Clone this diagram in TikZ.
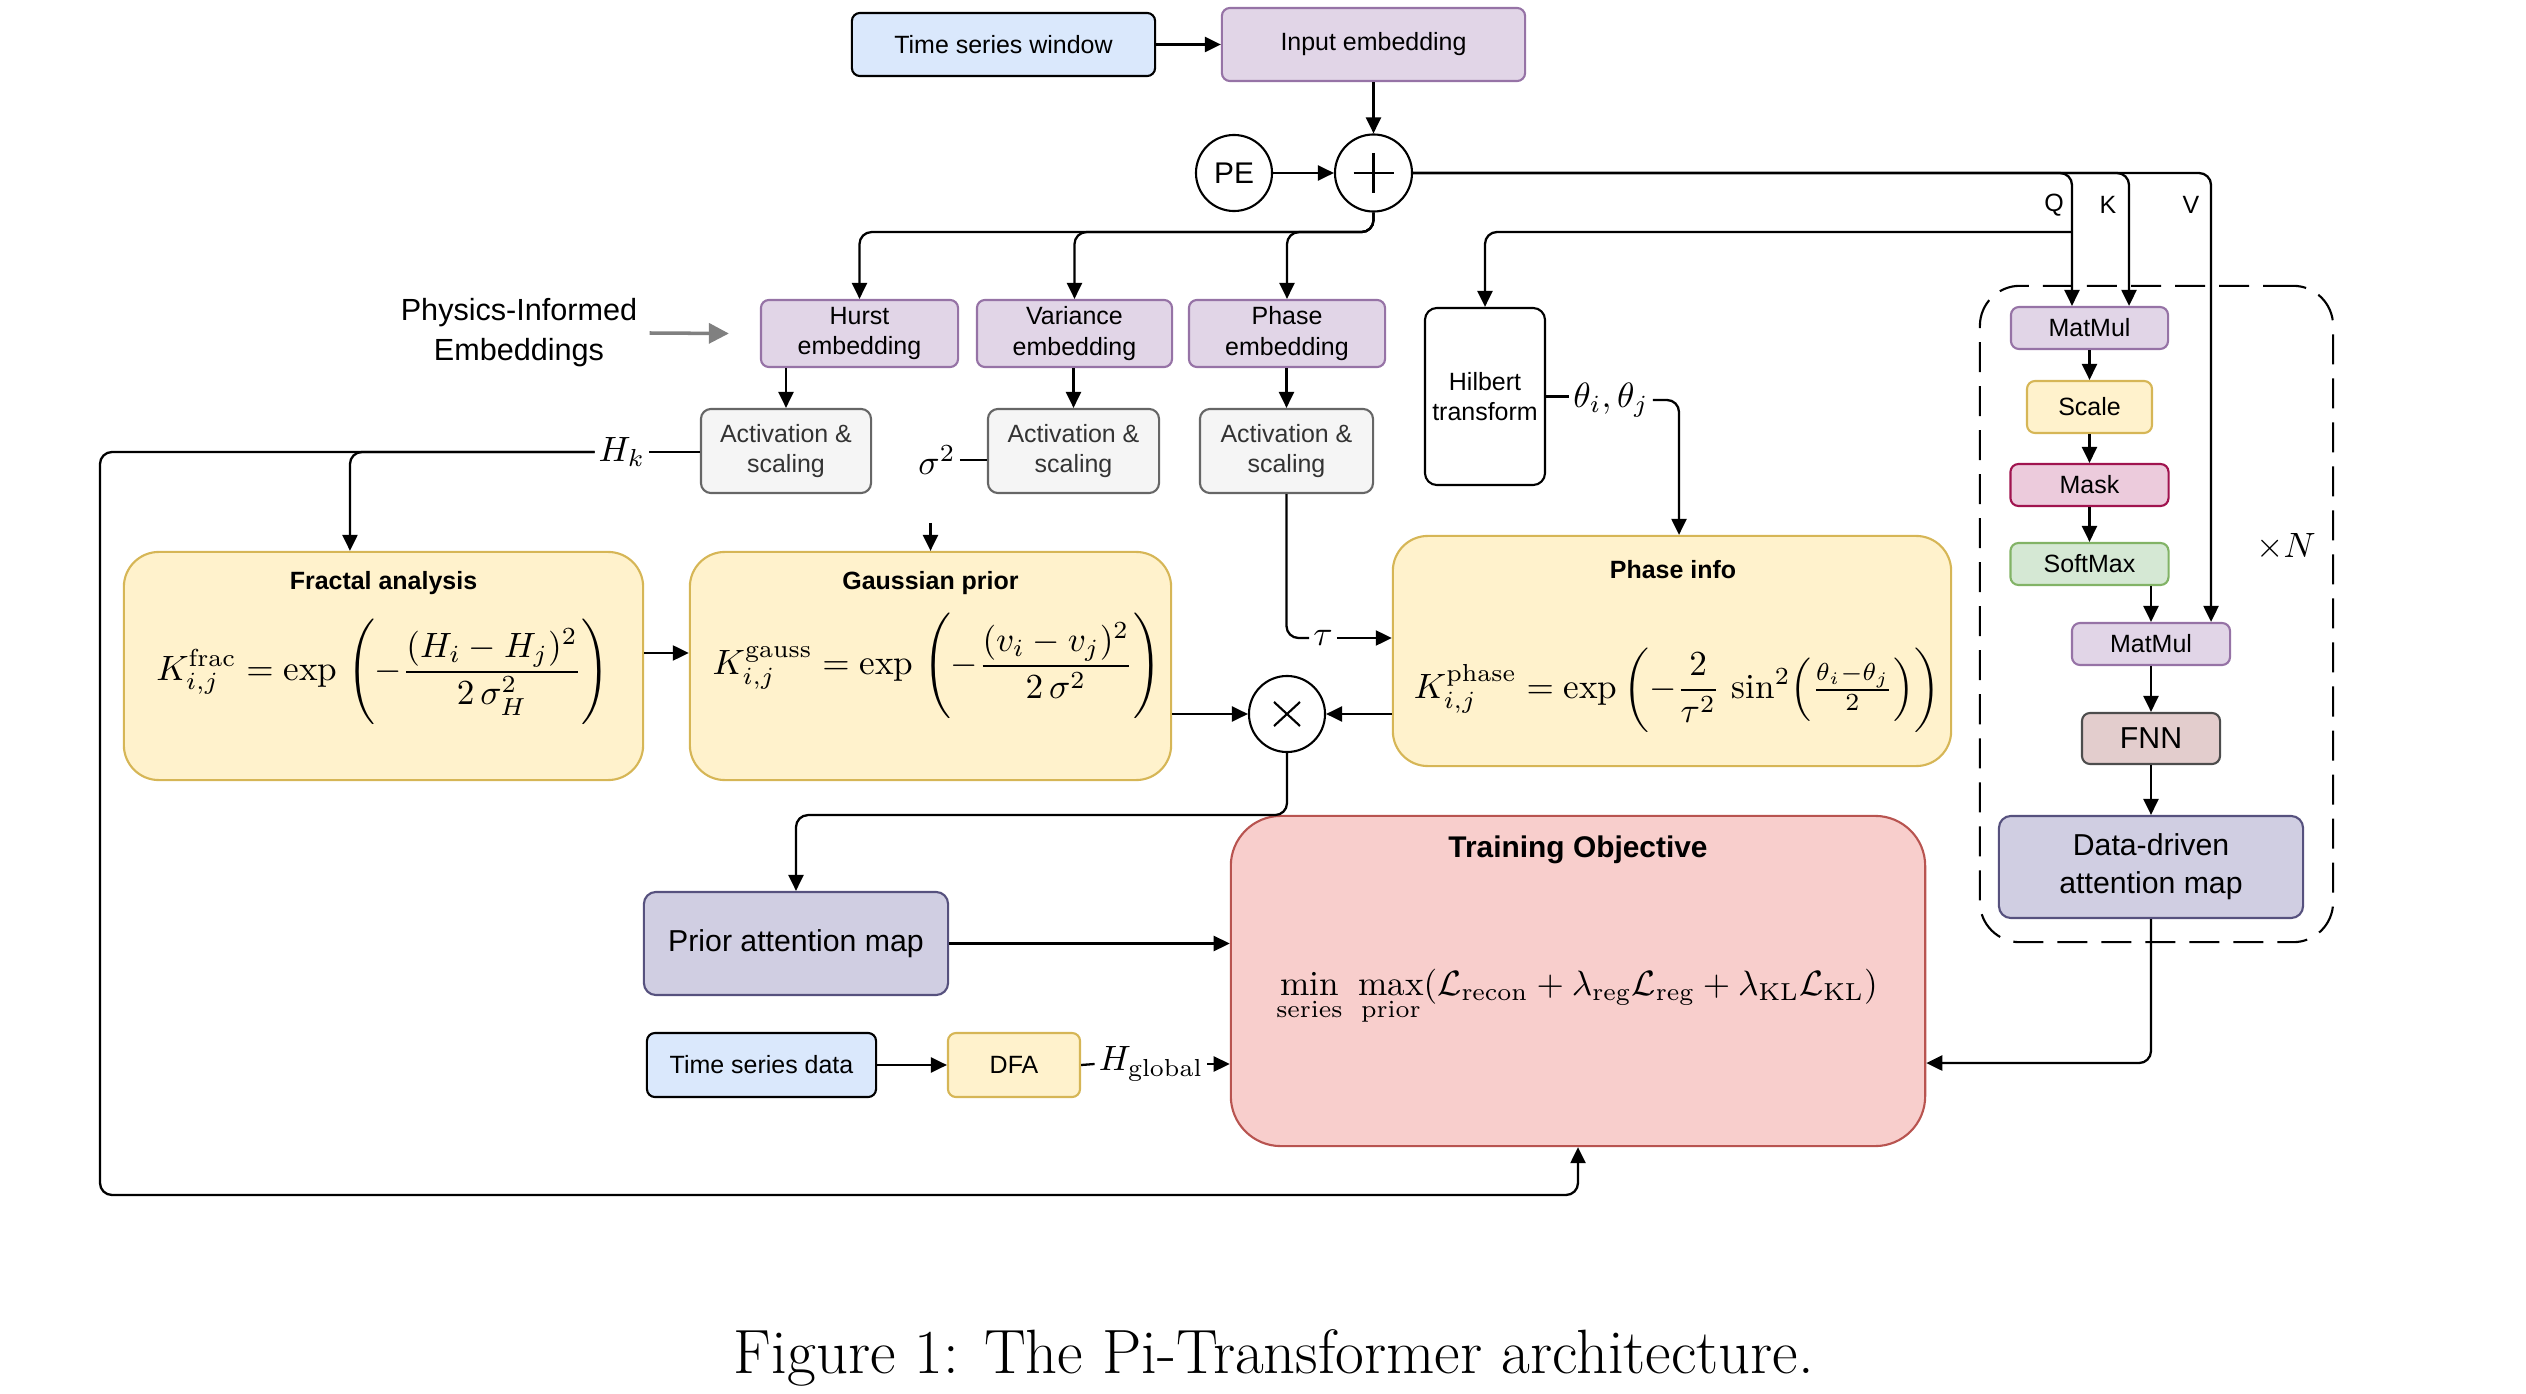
\documentclass[tikz,border=0pt]{standalone}
\usepackage{amsmath}
\usepackage{fontspec}
\setsansfont{Liberation Sans}
\usetikzlibrary{arrows.meta,calc}
\definecolor{bfill}{HTML}{DAE8FC}
\definecolor{pfill}{HTML}{E1D5E7}
\definecolor{pdraw}{HTML}{9673A6}
\definecolor{gfill}{HTML}{F5F5F5}
\definecolor{gdraw}{HTML}{666666}
\definecolor{yfill}{HTML}{FFF2CC}
\definecolor{ydraw}{HTML}{D6B656}
\definecolor{mfill}{HTML}{ECCBDC}
\definecolor{mdraw}{HTML}{A0144F}
\definecolor{sfill}{HTML}{D5E8D4}
\definecolor{sdraw}{HTML}{82B366}
\definecolor{ffill}{HTML}{E3CDCD}
\definecolor{fdraw}{HTML}{4D4D4D}
\definecolor{afill}{HTML}{D0CEE2}
\definecolor{adraw}{HTML}{56517E}
\definecolor{tfill}{HTML}{F8CECC}
\definecolor{tdraw}{HTML}{B85450}
\definecolor{txtgray}{HTML}{333333}
\begin{document}
\begin{tikzpicture}[x=0.01cm,y=-0.01cm,
  base/.style={draw, line width=0.6pt, align=center, inner sep=0pt,
    font=\sffamily\fontsize{7.1}{8.7}\selectfont},
  blu/.style={base, fill=bfill, draw=black, rounded corners=0.08cm},
  purp/.style={base, fill=pfill, draw=pdraw, rounded corners=0.08cm},
  grey/.style={base, fill=gfill, draw=gdraw, text=txtgray, rounded corners=0.1cm},
  yel/.style={base, fill=yfill, draw=ydraw, rounded corners=0.35cm},
  yels/.style={base, fill=yfill, draw=ydraw, rounded corners=0.08cm},
  circ/.style={draw, circle, line width=0.6pt, fill=white, inner sep=0pt,
    font=\sffamily\fontsize{8.5}{10}\selectfont},
  conn/.style={line width=0.65pt, rounded corners=0.12cm,
    -{Triangle[length=0.16cm,width=0.15cm]}},
  plain/.style={line width=0.65pt, rounded corners=0.12cm},
  lbl/.style={inner sep=1pt},
  frm/.style={inner sep=0pt},
  qkv/.style={font=\sffamily\fontsize{7.1}{8.7}\selectfont},
  ttl/.style={font=\sffamily\bfseries\fontsize{7.1}{8.7}\selectfont},
]
\useasboundingbox (0,0) rectangle (2526,1394);

% top row
\node[blu, minimum width=3.03cm, minimum height=0.63cm] (tsw) at (1003.5,44.5) {Time series window};
\node[purp, minimum width=3.03cm, minimum height=0.73cm] (inemb) at (1373.5,44.5) {Input embedding};
\node[circ, minimum size=0.76cm] (pe) at (1234,173) {PE};
\node[circ, minimum size=0.77cm] (plus) at (1373.5,173) {};
\draw[line width=0.6pt] ($(plus.center)+(-20,0)$) -- ($(plus.center)+(20,0)$);
\draw[line width=0.6pt] ($(plus.center)+(0,-20)$) -- ($(plus.center)+(0,20)$);

% physics-informed embeddings
\node[font=\sffamily\fontsize{8.7}{11.4}\selectfont, align=center] (phys) at (519,333) {Physics-Informed\\Embeddings};
\node[purp, minimum width=1.97cm, minimum height=0.67cm] (hurst) at (859.5,333.5) {Hurst\\embedding};
\node[purp, minimum width=1.95cm, minimum height=0.67cm] (var) at (1074.5,333.5) {Variance\\embedding};
\node[purp, minimum width=1.96cm, minimum height=0.67cm] (phemb) at (1287,333.5) {Phase\\embedding};
\node[grey, minimum width=1.70cm, minimum height=0.84cm] (act1) at (786,451) {Activation \&\\scaling};
\node[grey, minimum width=1.71cm, minimum height=0.84cm] (act2) at (1073.5,451) {Activation \&\\scaling};
\node[grey, minimum width=1.73cm, minimum height=0.84cm] (act3) at (1286.5,451) {Activation \&\\scaling};
\node[base, fill=white, draw=black, rounded corners=0.12cm, minimum width=1.20cm, minimum height=1.77cm] (hilb) at (1485,396.5) {Hilbert\\transform};

% kernel boxes
\node[yel, minimum width=5.19cm, minimum height=2.28cm] (frac) at (383.5,666) {};
\node[yel, minimum width=4.81cm, minimum height=2.28cm] (gauss) at (930.5,666) {};
\node[yel, minimum width=5.58cm, minimum height=2.30cm] (phase) at (1672,651) {};
\node[ttl] (fracT) at (383.5,583) {Fractal analysis};
\node[ttl] (gaussT) at (930.5,583) {Gaussian prior};
\node[ttl] (phaseT) at (1673,570) {Phase info};
\node[frm] (fracF) at (383,672) {$\displaystyle K^{\mathrm{frac}}_{i,j} = \exp\;\Biggl(-\frac{(H_i - H_j)^2}{2\,\sigma_H^2}\Biggr)$};
\node[frm] (gaussF) at (937,666) {$\displaystyle K^{\mathrm{gauss}}_{i,j} = \exp\;\Biggl(-\frac{(v_i - v_j)^2}{2\,\sigma^2}\Biggr)$};
\node[frm] (phaseF) at (1677,690) {$\displaystyle K^{\mathrm{phase}}_{i,j} = \exp\left(-\frac{2}{\tau^2}\,\sin^2\!\left(\tfrac{\theta_i-\theta_j}{2}\right)\right)$};

\node[circ, minimum size=0.76cm] (times) at (1287,714) {};
\draw[line width=0.6pt] ($(times.center)+(-13,-12)$) -- ($(times.center)+(13,12)$);
\draw[line width=0.6pt] ($(times.center)+(-13,12)$) -- ($(times.center)+(13,-12)$);

% lower part
\node[base, fill=afill, draw=adraw, rounded corners=0.12cm, minimum width=3.04cm, minimum height=1.03cm,
  font=\sffamily\fontsize{8.6}{10.8}\selectfont] (prior) at (796,943.5) {Prior attention map};
\node[blu, minimum width=2.29cm, minimum height=0.64cm] (tsd) at (761.5,1065) {Time series data};
\node[yels, minimum width=1.32cm, minimum height=0.64cm] (dfa) at (1014,1065) {DFA};
\node[base, fill=tfill, draw=tdraw, rounded corners=0.5cm, minimum width=6.94cm, minimum height=3.30cm] (train) at (1578,981) {};
\node[font=\sffamily\bfseries\fontsize{8.5}{10}\selectfont] (trainT) at (1578,850) {Training Objective};
\node[anchor=base, frm] (trainF) at (1577,995) {$\displaystyle \min_{\mathrm{series}}\;\max_{\mathrm{prior}}(\mathcal{L}_{\mathrm{recon}} + \lambda_{\mathrm{reg}}\mathcal{L}_{\mathrm{reg}} + \lambda_{\mathrm{KL}}\mathcal{L}_{\mathrm{KL}})$};

% transformer block
\node[draw, line width=0.6pt, dash pattern=on 0.3cm off 0.14cm, rounded corners=0.4cm,
  minimum width=3.53cm, minimum height=6.56cm] (rep) at (2156.5,614) {};
\node[purp, minimum width=1.57cm, minimum height=0.42cm] (mm1) at (2089.5,328) {MatMul};
\node[yels, minimum width=1.25cm, minimum height=0.52cm] (scale) at (2089.5,407) {Scale};
\node[base, fill=mfill, draw=mdraw, rounded corners=0.08cm, minimum width=1.58cm, minimum height=0.42cm] (mask) at (2089.5,485) {Mask};
\node[base, fill=sfill, draw=sdraw, rounded corners=0.08cm, minimum width=1.58cm, minimum height=0.42cm] (soft) at (2089.5,564) {SoftMax};
\node[purp, minimum width=1.58cm, minimum height=0.42cm] (mm2) at (2151,644) {MatMul};
\node[base, fill=ffill, draw=fdraw, rounded corners=0.08cm, minimum width=1.38cm, minimum height=0.51cm,
  font=\sffamily\fontsize{8.6}{10}\selectfont] (fnn) at (2151,738.5) {FNN};
\node[base, fill=afill, draw=adraw, rounded corners=0.12cm, minimum width=3.04cm, minimum height=1.02cm,
  font=\sffamily\fontsize{8.6}{10.8}\selectfont] (dd) at (2151,867) {Data-driven\\attention map};
\node (xn) at (2286,547) {$\times N$};
\node[qkv] (ql) at (2054,205) {Q};
\node[qkv] (kl) at (2108,205) {K};
\node[qkv] (vl) at (2191,205) {V};

% labels on edges
\node[lbl] (hk) at (622,452) {$H_k$};
\node[lbl] (sig) at (937,460) {$\sigma^2$};
\node[lbl] (tau) at (1323,638) {$\tau$};
\node[lbl] (theta) at (1611,400) {$\theta_i,\theta_j$};
\node[lbl] (hg) at (1151,1064) {$H_{\mathrm{global}}$};

% connectors
\draw[conn] (tsw) -- (inemb);
\draw[conn] (inemb) -- (plus);
\draw[conn] (pe) -- (plus);
\draw[conn] (plus.east) -| ([xshift=-0.175cm]mm1.north);
\draw[conn] (plus.east) -| ([xshift=0.395cm]mm1.north);
\draw[conn] (plus.east) -| ([xshift=0.6cm]mm2.north);
\coordinate (qj) at (2072,232);
\draw[conn] (qj) -| (hilb.north);
\draw[conn] (plus.south) -- ++(0,19.5) -| (hurst.north);
\draw[conn] (plus.south) -- ++(0,19.5) -| (var.north);
\draw[conn] (plus.south) -- ++(0,19.5) -| (phemb.north);
\draw[line width=1pt, color=gray, -{Triangle[length=0.2cm,width=0.2cm]}] (phys.east) -- ([xshift=-0.31cm]hurst.west);
\draw[conn] (act1.north |- hurst.south) -- (act1.north);
\draw[conn] (act2.north |- var.south) -- (act2.north);
\draw[conn] (act3.north |- phemb.south) -- (act3.north);
\draw[plain] (hk.east) -- (hk.east -| act1.west);
\draw[conn] (hk.west) -- (100,452) -- (100,1195) -| (train.south);
\draw[conn] (hk.west) -| ([xshift=-0.335cm]frac.north);
\draw[plain] (sig.east) -- (sig.east -| act2.west);
\draw[conn] ([yshift=0.28cm]gauss.north) -- (gauss.north);
\draw[plain] (act3.south) |- (tau.west);
\draw[conn] (tau.east) -- (tau.east -| phase.west);
\draw[plain] (hilb.east) -- (hilb.east -| theta.west);
\draw[conn] (theta.east) -| ([xshift=0.07cm]phase.north);
\draw[conn] ([yshift=0.13cm]frac.east) -- ([yshift=0.13cm]gauss.west);
\draw[conn] (gauss.east |- times.west) -- (times.west);
\draw[conn] (phase.west |- times.east) -- (times.east);
\draw[conn] (times.south) -- ++(0,62) -| (prior.north);
\draw[conn] (prior.east) -- (prior.east -| train.west);
\draw[conn] (tsd) -- (dfa);
\draw[plain] (dfa.east) -- (hg.west);
\draw[conn] (hg.east) -- (hg.east -| train.west);
\draw[conn] (mm1) -- (scale);
\draw[conn] (scale) -- (mask);
\draw[conn] (mask) -- (soft);
\draw[conn] (mm2.north |- soft.south) -- (mm2.north);
\draw[conn] (mm2) -- (fnn);
\draw[conn] (fnn) -- (dd);
\draw[conn] (dd.south) |- ([yshift=-0.82cm]train.east);

% caption
\node[font=\fontsize{17.8}{21}\selectfont] (cap) at (1274,1358) {Figure 1: The Pi-Transformer architecture.};
\end{tikzpicture}
\end{document}
